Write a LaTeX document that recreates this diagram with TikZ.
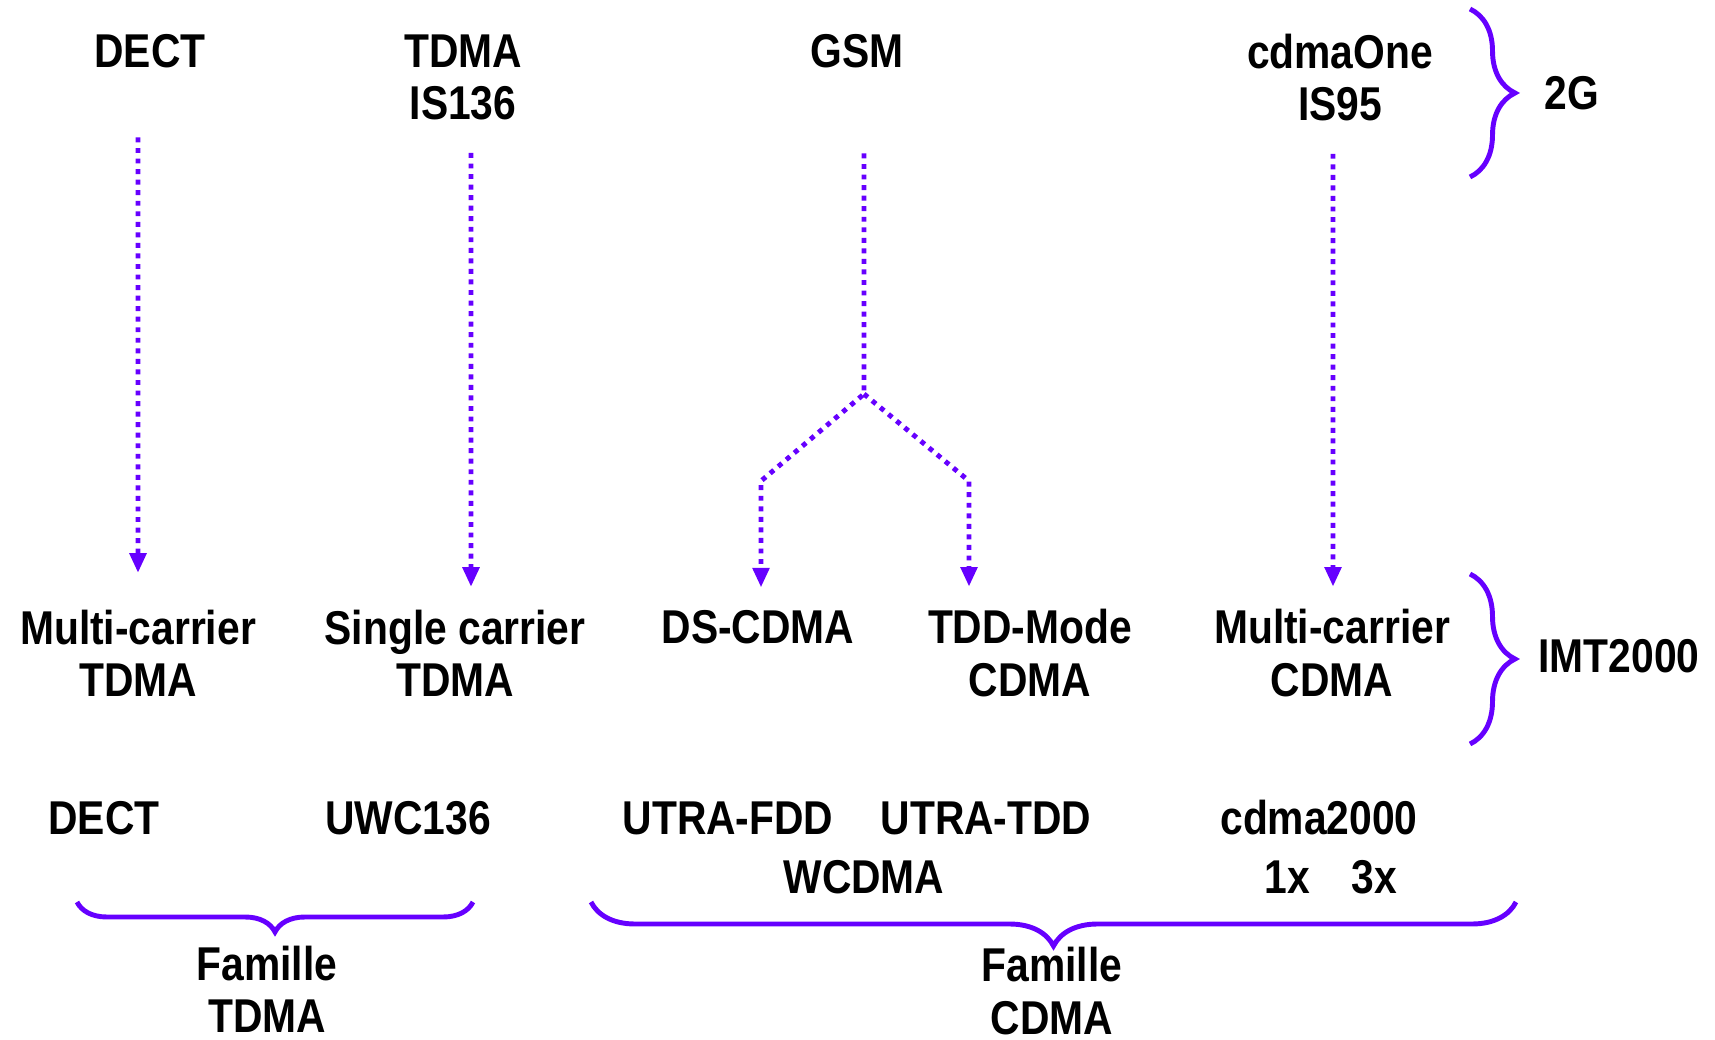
\documentclass[tikz,border=0pt]{standalone}
\usepackage{fontspec}
\setmainfont{Liberation Sans}[FakeStretch=0.86]
\usetikzlibrary{positioning, arrows.meta, decorations.pathreplacing}
\definecolor{linkviolet}{HTML}{6600FF}

\tikzset{
  lbl/.style={font=\bfseries\fontsize{13.5}{14.9}\selectfont, align=center, inner sep=0pt},
  flow/.style={linkviolet, line width=1.4pt, dash pattern=on 1.4pt off 1.6pt,
    -{Triangle[width=4.6pt, length=5.6pt]}},
  bracket/.style={linkviolet, line width=1.4pt, decorate, decoration={brace, amplitude=#1}}
}

\begin{document}
\begin{tikzpicture}
    \useasboundingbox (0,0) rectangle (17.15,-10.40);

    % Systemes 2G
    \node[lbl] (dect2) at (1.50,-0.51) {DECT};
    \node[lbl] (tdma2) at (4.63,-0.775) {TDMA\\IS136};
    \node[lbl] (gsm) at (8.57,-0.51) {GSM};
    \node[lbl] (cdmaone) at (13.40,-0.775) {cdmaOne\\IS95};
    \node[lbl] (gen2) at (15.72,-0.93) {2G};

    % Modes IMT2000
    \node[lbl] (mctdma) at (1.38,-6.53) {Multi-carrier\\TDMA};
    \node[lbl] (sctdma) at (4.55,-6.53) {Single carrier\\TDMA};
    \node[lbl] (dscdma) at (7.58,-6.27) {DS-CDMA};
    \node[lbl] (tddcdma) at (10.30,-6.53) {TDD-Mode\\CDMA};
    \node[lbl] (mccdma) at (13.32,-6.53) {Multi-carrier\\CDMA};
    \node[lbl] (imt) at (16.19,-6.56) {IMT2000};

    % Normes
    \node[lbl] (dect3) at (1.04,-8.18) {DECT};
    \node[lbl] (uwc) at (4.08,-8.18) {UWC136};
    \node[lbl] (utrafdd) at (7.28,-8.18) {UTRA-FDD};
    \node[lbl] (utratdd) at (9.86,-8.18) {UTRA-TDD};
    \node[lbl] (cdmak) at (13.19,-8.18) {cdma2000};
    \node[lbl] (wcdma) at (8.64,-8.77) {WCDMA};
    \node[lbl] (onex) at (12.87,-8.77) {1x};
    \node[lbl] (threex) at (13.74,-8.77) {3x};
    \node[lbl] (famtdma) at (2.67,-9.89) {Famille\\TDMA};
    \node[lbl] (famcdma) at (10.52,-9.91) {Famille\\CDMA};

    % Evolutions
    \coordinate (split) at (8.64,-3.94);
    \coordinate (kneeL) at (7.61,-4.81);
    \coordinate (kneeR) at (9.69,-4.81);
    \draw[flow] ([xshift=-1.2mm,yshift=-6.9mm]dect2.south) -- ([yshift=3.6mm]mctdma.north);
    \draw[flow] ([xshift=0.8mm,yshift=-3.2mm]tdma2.south) -- ([xshift=1.6mm,yshift=2.2mm]sctdma.north);
    \draw[flow] ([xshift=0.7mm,yshift=-8.5mm]gsm.south) -- (split) -- (kneeL) -- ([xshift=0.3mm,yshift=2.2mm]dscdma.north);
    \draw[flow] (split) -- (kneeR) -- ([xshift=-6.1mm,yshift=2.2mm]tddcdma.north);
    \draw[flow] ([xshift=-0.7mm,yshift=-3.2mm]cdmaone.south) -- ([xshift=0.1mm,yshift=2.2mm]mccdma.north);

    % Accolades
    \draw[bracket=4.5mm] (14.70,-0.09) -- (14.70,-1.77);
    \draw[bracket=4.5mm] (14.70,-5.74) -- (14.70,-7.44);
    \draw[bracket=3mm] (4.73,-9.02) -- (0.77,-9.02);
    \draw[bracket=4.4mm] (15.16,-9.02) -- (5.91,-9.02);
\end{tikzpicture}
\end{document}
